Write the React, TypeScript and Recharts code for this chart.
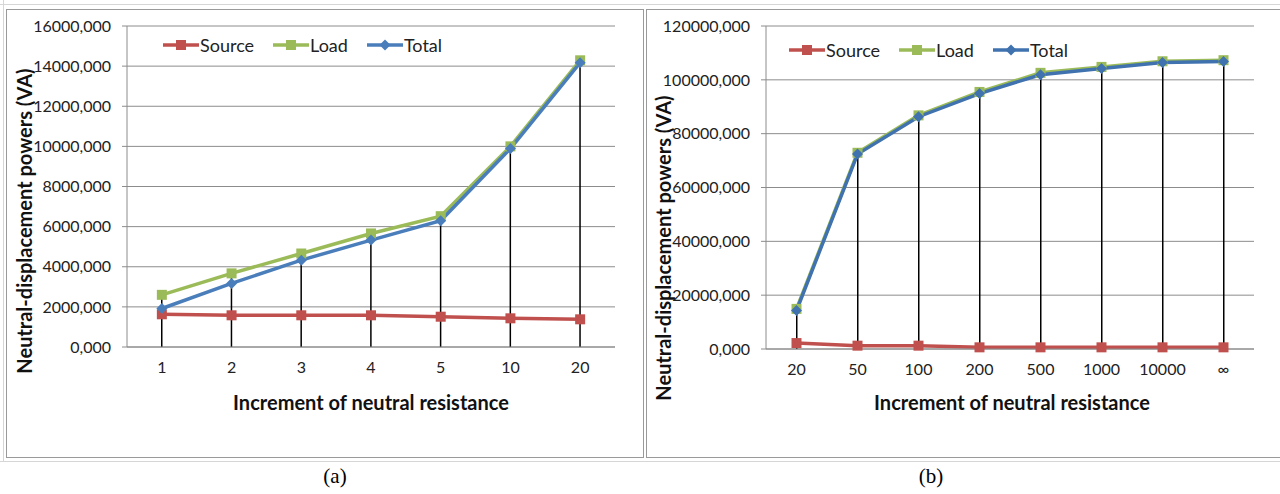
import { ComposedChart, Line, Bar, XAxis, YAxis, CartesianGrid, Legend, Label } from 'recharts'

// (a) increment 1..20
const stepsA = ['1', '2', '3', '4', '5', '10', '20']
const sourceA = [1630, 1580, 1580, 1580, 1510, 1430, 1380]
const loadA = [2600, 3670, 4660, 5660, 6520, 10000, 14290]
const totalA = [1920, 3170, 4330, 5330, 6290, 9890, 14170]
const ticksA = [0, 2000, 4000, 6000, 8000, 10000, 12000, 14000, 16000]

// (b) increment 20..inf
const stepsB = ['20', '50', '100', '200', '500', '1000', '10000', '∞']
const sourceB = [2200, 1240, 1240, 620, 620, 620, 620, 620]
const loadB = [14900, 72900, 86800, 95500, 102600, 104800, 106900, 107300]
const totalB = [14300, 72400, 86300, 94900, 101900, 104200, 106400, 106800]
const ticksB = [0, 20000, 40000, 60000, 80000, 100000, 120000]

const RED = '#C0504D'
const GREEN = '#9BBB59'
const BLUE = '#4A7EBB'
const BLUE_B = '#3F72AE'
const FONT = 'Lato, "Liberation Sans", Arial, sans-serif'

const fmt = (v: number) => `${v},000`

function Square(props: any) {
  const { cx, cy, color } = props
  if (cx == null || cy == null) return null
  return <rect x={cx - 5} y={cy - 5} width={10} height={10} fill={color} />
}

function Diamond(props: any) {
  const { cx, cy, color } = props
  if (cx == null || cy == null) return null
  return <path d={`M${cx},${cy - 5.5}L${cx + 5.5},${cy}L${cx},${cy + 5.5}L${cx - 5.5},${cy}Z`} fill={color} />
}

function LegendBox({ blue }: { blue: string }) {
  const items = [
    { name: 'Source', color: RED, shape: 'square' },
    { name: 'Load', color: GREEN, shape: 'square' },
    { name: 'Total', color: blue, shape: 'diamond' },
  ]
  return (
    <div style={{ display: 'flex', alignItems: 'center', fontFamily: FONT, fontSize: 18, color: '#222' }}>
      {items.map((it, i) => (
        <div key={it.name} style={{ display: 'flex', alignItems: 'center', marginLeft: i === 0 ? 0 : 19 }}>
          <svg width={36} height={12}>
            <line x1={0} y1={6} x2={36} y2={6} stroke={it.color} strokeWidth={3.5} />
            {it.shape === 'square' ? <Square cx={18} cy={6} color={it.color} /> : <Diamond cx={18} cy={6} color={it.color} />}
          </svg>
          <span style={{ marginLeft: 1 }}>{it.name}</span>
        </div>
      ))}
    </div>
  )
}

type PanelProps = {
  steps: string[]
  source: number[]
  load: number[]
  total: number[]
  ticks: number[]
  width: number
  marginLeft: number
  marginBottom: number
  blue: string
  legendPos: { left: number; top: number }
  yLabelPos: { x: number; y: number }
}

function Panel(p: PanelProps) {
  const data = p.steps.map((s, i) => ({ step: s, Source: p.source[i], Load: p.load[i], Total: p.total[i] }))
  const max = p.ticks[p.ticks.length - 1]
  return (
    <ComposedChart
      width={p.width}
      height={448}
      data={data}
      margin={{ top: 16, right: 26, bottom: p.marginBottom, left: p.marginLeft }}
      style={{ fontFamily: FONT }}
    >
      <CartesianGrid vertical={false} stroke="#8c8c8c" />
      <XAxis
        dataKey="step"
        height={30}
        tickLine={false}
        tickSize={0}
        tickMargin={15}
        axisLine={{ stroke: '#8c8c8c' }}
        tick={{ fill: '#222', fontSize: 16 }}
        interval={0}
      >
        <Label
          content={() => (
            <text x={364} y={392} textAnchor="middle" dominantBaseline="central" fontSize={20} fontWeight="bold" fill="#111">
              Increment of neutral resistance
            </text>
          )}
        />
      </XAxis>
      <YAxis
        width={95}
        domain={[0, max]}
        ticks={p.ticks}
        tickFormatter={fmt}
        tickSize={5}
        tickMargin={11}
        axisLine={{ stroke: '#8c8c8c' }}
        tickLine={{ stroke: '#8c8c8c' }}
        tick={{ fill: '#222', fontSize: 16 }}
        interval={0}
      >
        <Label
          content={() => (
            <text
              x={p.yLabelPos.x}
              y={p.yLabelPos.y}
              transform={`rotate(-90 ${p.yLabelPos.x} ${p.yLabelPos.y})`}
              textAnchor="middle"
              dominantBaseline="central"
              fontSize={20}
              fontWeight="bold"
              fill="#111"
            >
              Neutral-displacement powers (VA)
            </text>
          )}
        />
      </YAxis>
      <Legend
        layout="horizontal"
        verticalAlign="middle"
        align="center"
        content={() => <LegendBox blue={p.blue} />}
        wrapperStyle={{ position: 'absolute', left: p.legendPos.left, top: p.legendPos.top, width: 'auto' }}
      />
      <Line dataKey="Source" stroke={RED} strokeWidth={3.5} dot={<Square color={RED} />} activeDot={false} isAnimationActive={false} legendType="none" />
      <Line dataKey="Load" stroke={GREEN} strokeWidth={3.5} dot={<Square color={GREEN} />} activeDot={false} isAnimationActive={false} legendType="none" />
      <Line dataKey="Total" stroke={p.blue} strokeWidth={3.5} dot={<Diamond color={p.blue} />} activeDot={false} isAnimationActive={false} legendType="none" />
      <Bar dataKey="Load" fill="#000" barSize={1.5} isAnimationActive={false} legendType="none" />
    </ComposedChart>
  )
}

function Frame({ left, width }: { left: number; width: number }) {
  return (
    <div
      style={{
        position: 'absolute',
        left,
        top: 9,
        width,
        height: 449,
        border: '1.5px solid #9a9a9a',
        boxSizing: 'border-box',
        background: '#fff',
      }}
    />
  )
}

export default function App() {
  return (
    <div style={{ position: 'absolute', left: 0, top: 0, width: 1280, height: 494, background: '#fff', overflow: 'hidden' }}>
      <div style={{ position: 'absolute', left: 0, top: 4, width: 1280, height: 1, background: '#d6d6d6' }} />
      <div style={{ position: 'absolute', left: 0, top: 461, width: 1280, height: 1, background: '#d6d6d6' }} />
      <div style={{ position: 'absolute', left: 3, top: 0, width: 1, height: 462, background: '#d6d6d6' }} />
      <Frame left={6} width={638} />
      <Frame left={646} width={640} />
      <div style={{ position: 'absolute', left: 7, top: 10 }}>
        <Panel
          steps={stepsA}
          source={sourceA}
          load={loadA}
          total={totalA}
          ticks={ticksA}
          width={634}
          marginLeft={25}
          marginBottom={81}
          blue={BLUE}
          legendPos={{ left: 156, top: 24 }}
          yLabelPos={{ x: 17, y: 211 }}
        />
      </div>
      <div style={{ position: 'absolute', left: 648, top: 10 }}>
        <Panel
          steps={stepsB}
          source={sourceB}
          load={loadB}
          total={totalB}
          ticks={ticksB}
          width={632}
          marginLeft={23}
          marginBottom={79}
          blue={BLUE_B}
          legendPos={{ left: 141, top: 29 }}
          yLabelPos={{ x: 15, y: 238 }}
        />
      </div>
      <div style={{ position: 'absolute', left: 315, top: 464, width: 40, textAlign: 'center', fontFamily: '"Liberation Serif", "Times New Roman", serif', fontSize: 21, color: '#000' }}>
        (a)
      </div>
      <div style={{ position: 'absolute', left: 911, top: 464, width: 40, textAlign: 'center', fontFamily: '"Liberation Serif", "Times New Roman", serif', fontSize: 21, color: '#000' }}>
        (b)
      </div>
    </div>
  )
}
